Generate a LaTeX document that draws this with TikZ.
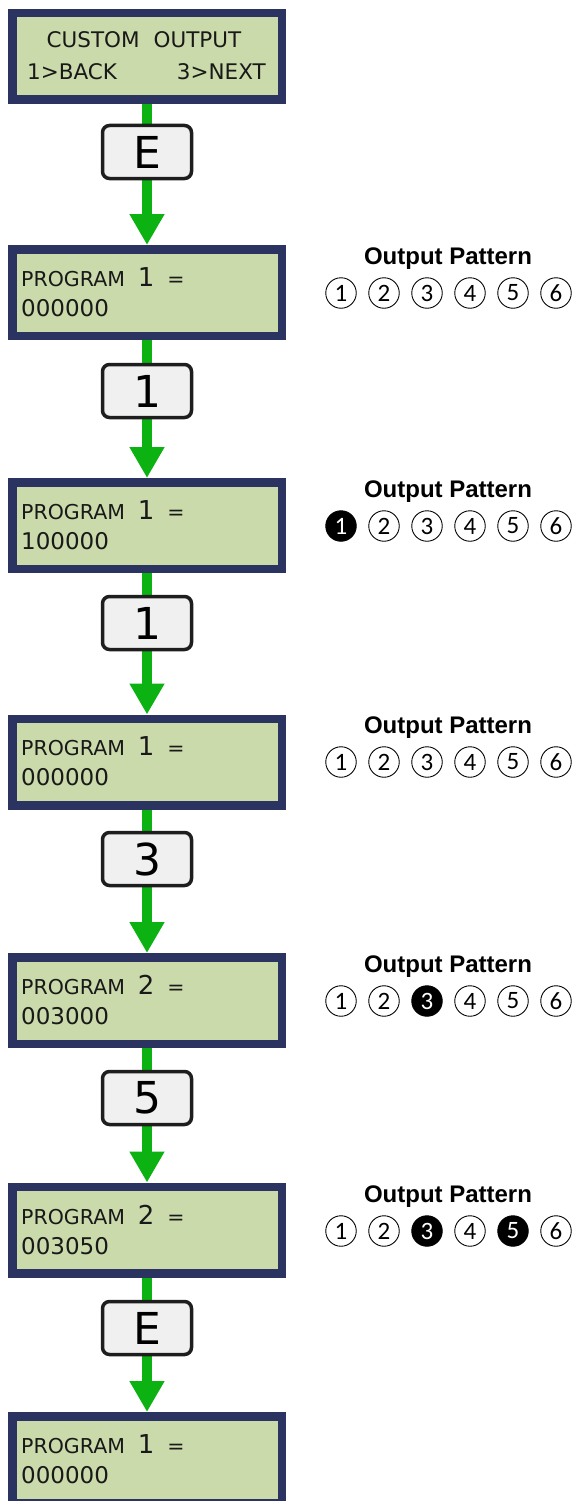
\documentclass[tikz,border=0pt]{standalone}
\usepackage{fontspec}
\setmainfont{DejaVu Sans}
\newfontfamily\lcdfont{DejaVu Sans}
\newfontfamily\headfont{Liberation Sans}
\newfontfamily\numfont{Carlito}
\usetikzlibrary{arrows.meta}
\definecolor{lcdborder}{RGB}{43,52,96}
\definecolor{lcdfill}{RGB}{203,218,171}
\definecolor{lcdtext}{RGB}{25,25,25}
\definecolor{arrowgreen}{RGB}{12,178,18}
\definecolor{keyfill}{RGB}{240,240,240}
\definecolor{keyborder}{RGB}{30,30,30}
\tikzset{
  lcd/.style={draw=lcdborder, line width=8.5pt, fill=lcdfill, minimum width=269.5pt, minimum height=86.5pt, inner sep=0pt},
  lcdtxt/.style={inner sep=0pt, text=lcdtext, font=\lcdfont\fontsize{20.5pt}{24pt}\selectfont},
  keybox/.style={draw=keyborder, line width=3.5pt, fill=keyfill, rounded corners=7pt, minimum width=89pt, minimum height=53pt, inner sep=0pt, font=\lcdfont\fontsize{44pt}{46pt}\selectfont},
  flow/.style={draw=arrowgreen, fill=arrowgreen, line width=10pt, -{Triangle[width=33pt,length=31pt]}},
  head/.style={inner sep=0pt, font=\headfont\bfseries\fontsize{24pt}{28pt}\selectfont},
  pin/.style={circle, draw=black, line width=0.9pt, minimum size=30.5pt, inner sep=0pt, font=\numfont\fontsize{25pt}{26pt}\selectfont},
  pinon/.style={pin, fill=black, text=white},
}
\newcommand{\bignum}[1]{{\fontsize{26pt}{28pt}\selectfont #1}}
\newcommand{\digline}[1]{{\fontsize{23pt}{26pt}\selectfont #1}}
\begin{document}
\begin{tikzpicture}[x=1pt,y=-1pt]
\useasboundingbox (0,0) rectangle (574,1501);
% LCD boxes
\node[lcd] (b1) at (147,56.5) {};
\node[lcd] (b2) at (147,292.5) {};
\node[lcd] (b3) at (147,525.5) {};
\node[lcd] (b4) at (147,762) {};
\node[lcd] (b5) at (147,1000.5) {};
\node[lcd] (b6) at (147,1230) {};
\node[lcd] (b7) at (147,1459.5) {};
% LCD texts
\node[lcdtxt, anchor=base] (t1a) at (144,48) {\fontsize{21.5pt}{24pt}\selectfont CUSTOM\hspace{14pt}OUTPUT};
\node[lcdtxt, anchor=base west] (t1b) at (27,80) {\fontsize{21.5pt}{24pt}\selectfont 1>BACK};
\node[lcdtxt, anchor=base east] (t1c) at (266,80) {\fontsize{21.5pt}{24pt}\selectfont 3>NEXT};
\node[lcdtxt, anchor=base west] (t2a) at (21,286) {PROGRAM\hspace{13pt}\bignum{1}\hspace{13pt}=};
\node[lcdtxt, anchor=base west] (t2b) at (21,316) {\digline{000000}};
\node[lcdtxt, anchor=base west] (t3a) at (21,519) {PROGRAM\hspace{13pt}\bignum{1}\hspace{13pt}=};
\node[lcdtxt, anchor=base west] (t3b) at (21,549) {\digline{100000}};
\node[lcdtxt, anchor=base west] (t4a) at (21,755) {PROGRAM\hspace{13pt}\bignum{1}\hspace{13pt}=};
\node[lcdtxt, anchor=base west] (t4b) at (21,785) {\digline{000000}};
\node[lcdtxt, anchor=base west] (t5a) at (21,994) {PROGRAM\hspace{13pt}\bignum{2}\hspace{13pt}=};
\node[lcdtxt, anchor=base west] (t5b) at (21,1024) {\digline{003000}};
\node[lcdtxt, anchor=base west] (t6a) at (21,1224) {PROGRAM\hspace{13pt}\bignum{2}\hspace{13pt}=};
\node[lcdtxt, anchor=base west] (t6b) at (21,1254) {\digline{003050}};
\node[lcdtxt, anchor=base west] (t7a) at (21,1453) {PROGRAM\hspace{13pt}\bignum{1}\hspace{13pt}=};
\node[lcdtxt, anchor=base west] (t7b) at (21,1483) {\digline{000000}};
% arrows
\draw[flow] (b1.south) -- (b2.north);
\draw[flow] (b2.south) -- (b3.north);
\draw[flow] (b3.south) -- (b4.north);
\draw[flow] (b4.south) -- (b5.north);
\draw[flow] (b5.south) -- (b6.north);
\draw[flow] (b6.south) -- (b7.north);
% keys
\node[keybox] (k1) at (147,152) {E};
\node[keybox] (k2) at (147,391) {1};
\node[keybox] (k3) at (147,623) {1};
\node[keybox] (k4) at (147,859) {3};
\node[keybox] (k5) at (147,1098) {5};
\node[keybox] (k6) at (147,1328) {E};
% output patterns
\node[head, anchor=base] (h2) at (448,264) {Output Pattern};
\node[head, anchor=base] (h3) at (448,497) {Output Pattern};
\node[head, anchor=base] (h4) at (448,733) {Output Pattern};
\node[head, anchor=base] (h5) at (448,972) {Output Pattern};
\node[head, anchor=base] (h6) at (448,1202) {Output Pattern};
\foreach \i/\s in {1/pin,2/pin,3/pin,4/pin,5/pin,6/pin}
  \node[\s] (p2-\i) at ({341+43*(\i-1)},293) {\i};
\foreach \i/\s in {1/pinon,2/pin,3/pin,4/pin,5/pin,6/pin}
  \node[\s] (p3-\i) at ({341+43*(\i-1)},526) {\i};
\foreach \i/\s in {1/pin,2/pin,3/pin,4/pin,5/pin,6/pin}
  \node[\s] (p4-\i) at ({341+43*(\i-1)},762) {\i};
\foreach \i/\s in {1/pin,2/pin,3/pinon,4/pin,5/pin,6/pin}
  \node[\s] (p5-\i) at ({341+43*(\i-1)},1001) {\i};
\foreach \i/\s in {1/pin,2/pin,3/pinon,4/pin,5/pinon,6/pin}
  \node[\s] (p6-\i) at ({341+43*(\i-1)},1231) {\i};
\end{tikzpicture}
\end{document}
